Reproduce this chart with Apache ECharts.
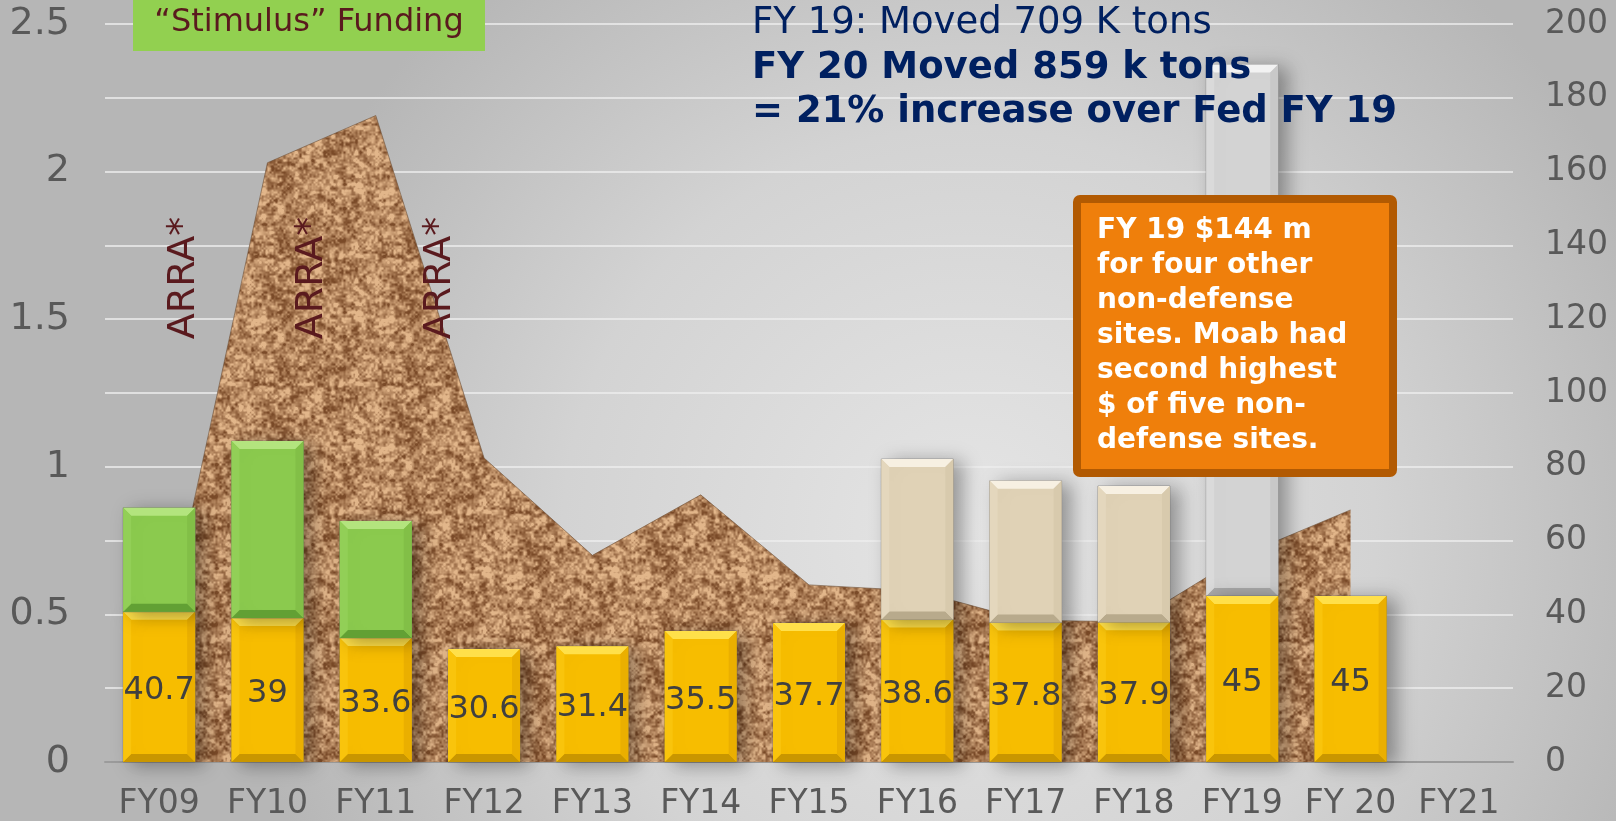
<html>

<head>
    <meta charset="utf-8" />
    <style>
        html, body { margin: 0; padding: 0; }
        #chart { width: 1616px; height: 821px; }
    </style>
</head>

<body>
    <div id="chart"></div>
    <script src="https://cdn.jsdelivr.net/npm/echarts@6.0.0/dist/echarts.min.js"></script>
    <script>
        // categories
        var years = ['FY09', 'FY10', 'FY11', 'FY12', 'FY13', 'FY14', 'FY15', 'FY16', 'FY17', 'FY18', 'FY19', 'FY 20', 'FY21'];
        // Moab funding, $M (right axis, yellow)
        var moabValues = [40.7, 39, 33.6, 30.6, 31.4, 35.5, 37.7, 38.6, 37.8, 37.9, 45, 45, null];
        // ARRA stimulus on top (green)
        var arraValues = [28.2, 48.0, 31.7, null, null, null, null, null, null, null, null, null, null];
        // other funding on top (beige)
        var otherValues = [null, null, null, null, null, null, null, 43.5, 38.4, 36.9, null, null, null];
        // other four non-defense sites FY19 (grey)
        var otherSitesValues = [null, null, null, null, null, null, null, null, null, null, 144, null, null];
        // tons moved, millions (left axis, cork area)
        var tonsValues = [0.34, 2.03, 2.19, 1.03, 0.70, 0.905, 0.60, 0.58, 0.48, 0.475, 0.70, 0.854, null];

        var leftTicks = { min: 0, max: 2.5, interval: 0.5 };
        var rightTicks = { min: 0, max: 200, interval: 20 };

        var chart = echarts.init(document.getElementById('chart'));

        // cork texture for the area fill (deterministic value noise, styling only)
        function makeCork() {
            var size = 128;
            var c = document.createElement('canvas');
            c.width = size; c.height = size;
            var ctx = c.getContext('2d');
            var img = ctx.createImageData(size, size);
            function hash(x, y, p) {
                x = ((x % p) + p) % p; y = ((y % p) + p) % p;
                var n = Math.imul(x, 374761393) + Math.imul(y, 668265263);
                n = Math.imul(n ^ (n >>> 13), 1274126177);
                n = n ^ (n >>> 16);
                return (n >>> 0) / 4294967295;
            }
            function noise(x, y, cell) {
                var p = size / cell;
                var gx = x / cell, gy = y / cell;
                var x0 = Math.floor(gx), y0 = Math.floor(gy);
                var fx = gx - x0, fy = gy - y0;
                fx = fx * fx * (3 - 2 * fx); fy = fy * fy * (3 - 2 * fy);
                var a = hash(x0, y0, p), b = hash(x0 + 1, y0, p);
                var cc = hash(x0, y0 + 1, p), d = hash(x0 + 1, y0 + 1, p);
                return (a * (1 - fx) + b * fx) * (1 - fy) + (cc * (1 - fx) + d * fx) * fy;
            }
            var dark = [122, 74, 40], light = [226, 182, 138];
            for (var y = 0; y < size; y++) {
                for (var x = 0; x < size; x++) {
                    var v = 0.25 * noise(x, y, 8) + 0.4 * noise(x, y, 4) + 0.35 * noise(x, y, 2);
                    var t = Math.max(0, Math.min(1, (v - 0.5) * 2.0 + 0.58));
                    var i = (y * size + x) * 4;
                    img.data[i] = dark[0] + (light[0] - dark[0]) * t;
                    img.data[i + 1] = dark[1] + (light[1] - dark[1]) * t;
                    img.data[i + 2] = dark[2] + (light[2] - dark[2]) * t;
                    img.data[i + 3] = 255;
                }
            }
            ctx.putImageData(img, 0, 0);
            return c;
        }

        // stacked segments [index, base, top]
        function segments(vals, bases) {
            var out = [];
            for (var i = 0; i < vals.length; i++) {
                if (vals[i] == null) continue;
                var b = bases ? bases[i] : 0;
                out.push([i, b, b + vals[i]]);
            }
            return out;
        }

        function bevelBar(colors, withLabel) {
            return function (params, api) {
                var idx = api.value(0);
                var p0 = api.coord([idx, api.value(1)]);
                var p1 = api.coord([idx, api.value(2)]);
                var w = api.size([1, 0])[0] * 0.665;
                var x = p0[0] - w / 2, y = p1[1], h = p0[1] - p1[1];
                var b = Math.min(8, h / 2);
                var children = [
                    {
                        type: 'rect', shape: { x: x, y: y, width: w, height: h },
                        style: {
                            fill: colors.main, stroke: 'rgba(90,90,90,0.45)', lineWidth: 1,
                            shadowBlur: 18, shadowOffsetX: 9, shadowOffsetY: 3, shadowColor: 'rgba(0,0,0,0.35)'
                        }
                    },
                    { type: 'polygon', shape: { points: [[x, y], [x + w, y], [x + w - b, y + b], [x + b, y + b]] }, style: { fill: colors.top } },
                    { type: 'polygon', shape: { points: [[x, y + h], [x + w, y + h], [x + w - b, y + h - b], [x + b, y + h - b]] }, style: { fill: colors.bottom } },
                    { type: 'polygon', shape: { points: [[x, y], [x + b, y + b], [x + b, y + h - b], [x, y + h]] }, style: { fill: colors.left } },
                    { type: 'polygon', shape: { points: [[x + w, y], [x + w - b, y + b], [x + w - b, y + h - b], [x + w, y + h]] }, style: { fill: colors.right } }
                ];
                if (withLabel) {
                    children.push({
                        type: 'text', x: p0[0], y: y + h / 2 + 4,
                        style: {
                            text: String(api.value(2) - api.value(1)), fill: '#404040',
                            font: '32px "DejaVu Sans"', align: 'center', verticalAlign: 'middle'
                        }
                    });
                }
                return { type: 'group', children: children };
            };
        }

        var yellow = { main: '#f7bd00', top: '#ffe04a', bottom: '#c99600', left: '#f9c40c', right: '#eaaf00' };
        var green = { main: '#8bca4e', top: '#b3e47e', bottom: '#62a034', left: '#92cf57', right: '#82bf47' };
        var beige = { main: '#e0d2b6', top: '#f7f0e2', bottom: '#b8aa8c', left: '#e4d7bd', right: '#d8caad' };
        var grey = { main: '#d3d3d3', top: '#f2f2f2', bottom: '#a9a9a9', left: '#dadada', right: '#c8c8c8' };

        var titleFont = '"DejaVu Sans"';
        var maroon = '#5a1a1e';
        var navy = '#002060';

        option = {
            backgroundColor: new echarts.graphic.RadialGradient(0.6, 0.65, 0.9, [
                { offset: 0, color: '#e5e5e5' },
                { offset: 0.55, color: '#d3d3d3' },
                { offset: 1, color: '#b6b6b6' }
            ]),
            textStyle: { fontFamily: titleFont },
            grid: { left: 105, right: 103, top: 24, bottom: 59 },
            xAxis: {
                type: 'category',
                data: years,
                axisTick: { show: false },
                axisLine: { lineStyle: { color: '#9b9b9b', width: 2 } },
                axisLabel: { color: '#595959', fontSize: 33, margin: 26, interval: 0 }
            },
            yAxis: [
                {
                    type: 'value', position: 'left',
                    min: leftTicks.min, max: leftTicks.max, interval: leftTicks.interval,
                    axisLine: { show: false }, axisTick: { show: false },
                    splitLine: { show: false },
                    axisLabel: { color: '#595959', fontSize: 38, margin: 35 }
                },
                {
                    type: 'value', position: 'right',
                    min: rightTicks.min, max: rightTicks.max, interval: rightTicks.interval,
                    axisLine: { show: false }, axisTick: { show: false },
                    splitLine: { lineStyle: { color: 'rgba(238,238,238,0.75)', width: 2 } },
                    axisLabel: { color: '#595959', fontSize: 33, margin: 32, align: 'left' }
                }
            ],
            series: [
                {
                    name: 'Tons', type: 'line', yAxisIndex: 0, z: 1,
                    data: tonsValues, symbol: 'none', smooth: false,
                    lineStyle: { width: 1, color: 'rgba(110,80,55,0.6)' },
                    areaStyle: { color: { image: makeCork(), repeat: 'repeat' }, opacity: 1 }
                },
                {
                    name: 'Moab', type: 'custom', yAxisIndex: 1, z: 3,
                    data: segments(moabValues), encode: { x: 0, y: [1, 2] },
                    renderItem: bevelBar(yellow, true)
                },
                {
                    name: 'ARRA', type: 'custom', yAxisIndex: 1, z: 3,
                    data: segments(arraValues, moabValues), encode: { x: 0, y: [1, 2] },
                    renderItem: bevelBar(green, false)
                },
                {
                    name: 'Other', type: 'custom', yAxisIndex: 1, z: 3,
                    data: segments(otherValues, moabValues), encode: { x: 0, y: [1, 2] },
                    renderItem: bevelBar(beige, false)
                },
                {
                    name: 'Other sites', type: 'custom', yAxisIndex: 1, z: 2,
                    data: segments(otherSitesValues, moabValues), encode: { x: 0, y: [1, 2] },
                    renderItem: bevelBar(grey, false)
                }
            ],
            graphic: [
                { type: 'rect', z: 10, shape: { x: 133, y: 0, width: 352, height: 51 }, style: { fill: '#92d050' } },
                { type: 'text', z: 11, x: 309, y: 23, style: { text: '\u201CStimulus\u201D Funding', font: '32px ' + titleFont, fill: maroon, align: 'center', verticalAlign: 'middle' } },
                { type: 'text', z: 11, x: 184, y: 278, rotation: Math.PI / 2, style: { text: 'ARRA*', font: '38px ' + titleFont, fill: maroon, align: 'center', verticalAlign: 'middle' } },
                { type: 'text', z: 11, x: 312, y: 278, rotation: Math.PI / 2, style: { text: 'ARRA*', font: '38px ' + titleFont, fill: maroon, align: 'center', verticalAlign: 'middle' } },
                { type: 'text', z: 11, x: 440, y: 278, rotation: Math.PI / 2, style: { text: 'ARRA*', font: '38px ' + titleFont, fill: maroon, align: 'center', verticalAlign: 'middle' } },
                { type: 'text', z: 11, x: 752, y: 23, style: { text: 'FY 19: Moved 709 K tons', font: '37px ' + titleFont, fill: navy, verticalAlign: 'middle' } },
                { type: 'text', z: 11, x: 752, y: 68, style: { text: 'FY 20 Moved 859 k tons', font: 'bold 37px ' + titleFont, fill: navy, verticalAlign: 'middle' } },
                { type: 'text', z: 11, x: 752, y: 112, style: { text: '= 21% increase over Fed FY 19', font: 'bold 37px ' + titleFont, fill: navy, verticalAlign: 'middle' } },
                { type: 'rect', z: 10, shape: { x: 1077, y: 199, width: 316, height: 274, r: 3 }, style: { fill: '#ef7f0b', stroke: '#b25a02', lineWidth: 8 } },
                {
                    type: 'text', z: 11, x: 1097, y: 213,
                    style: {
                        text: 'FY 19 $144 m\nfor four other\nnon-defense\nsites. Moab had\nsecond highest\n$ of five non-\ndefense sites.',
                        font: 'bold 28px ' + titleFont, lineHeight: 35, fill: '#ffffff', verticalAlign: 'top'
                    }
                }
            ]
        };
        chart.setOption(option);
    </script>
</body>

</html>
